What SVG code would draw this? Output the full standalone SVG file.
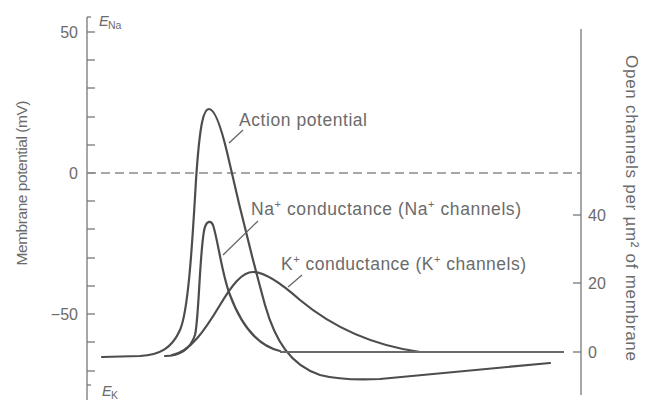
<svg xmlns="http://www.w3.org/2000/svg" width="645" height="400" viewBox="0 0 645 400">
  <style>
    .axis { stroke: #777; stroke-width: 1.3; fill: none; }
    .tick { stroke: #777; stroke-width: 1.3; }
    .zero { stroke: #8a8a8a; stroke-width: 1.4; stroke-dasharray: 9 5; fill: none; }
    .curve { stroke: #4d4d4d; stroke-width: 2.2; fill: none; stroke-linecap: round; stroke-linejoin: round; }
    .base { stroke: #6a6a6a; stroke-width: 2; fill: none; }
    .leader { stroke: #666; stroke-width: 1.3; }
    text { font-family: "Liberation Sans", Arial, sans-serif; fill: #6b6b6b; }
    .num { font-size: 16px; }
    .lbl { font-size: 17.5px; }
    .ax-left { font-size: 15.5px; }
    .ax-right { font-size: 17px; }
  </style>

  <!-- membrane potential axis (left) -->
  <g id="left-axis">
    <line class="axis" x1="87" y1="17" x2="87" y2="400"/>
    <line class="tick" x1="87" y1="17" x2="91" y2="17"/>
    <line class="tick" x1="87" y1="32" x2="95" y2="32"/>
    <line class="tick" x1="87" y1="60" x2="95" y2="60"/>
    <line class="tick" x1="87" y1="88" x2="95" y2="88"/>
    <line class="tick" x1="87" y1="117" x2="95" y2="117"/>
    <line class="tick" x1="87" y1="145" x2="95" y2="145"/>
    <line class="tick" x1="87" y1="173" x2="95" y2="173"/>
    <line class="tick" x1="87" y1="201" x2="95" y2="201"/>
    <line class="tick" x1="87" y1="229" x2="95" y2="229"/>
    <line class="tick" x1="87" y1="258" x2="95" y2="258"/>
    <line class="tick" x1="87" y1="286" x2="95" y2="286"/>
    <line class="tick" x1="87" y1="314" x2="95" y2="314"/>
    <line class="tick" x1="87" y1="342" x2="95" y2="342"/>
    <line class="tick" x1="87" y1="371" x2="95" y2="371"/>
    <line class="tick" x1="87" y1="385" x2="91" y2="385"/>
    <text class="num" x="78" y="38" text-anchor="end">50</text>
    <text class="num" x="78" y="179" text-anchor="end">0</text>
    <text class="num" x="78" y="320" text-anchor="end">−50</text>
    <text x="99" y="26" font-size="14.5" font-style="italic">E</text>
    <text x="108" y="29" font-size="10.5">Na</text>
    <text x="102" y="396" font-size="14.5" font-style="italic">E</text>
    <text x="111" y="399" font-size="10.5">K</text>
    <text class="ax-left" transform="translate(27,183) rotate(-90)" text-anchor="middle" textLength="165" lengthAdjust="spacing">Membrane potential (mV)</text>
  </g>

  <!-- open channel density axis (right) -->
  <g id="right-axis">
    <line class="axis" x1="581" y1="29" x2="581" y2="395"/>
    <line class="tick" x1="573" y1="215" x2="581" y2="215"/>
    <line class="tick" x1="573" y1="283" x2="581" y2="283"/>
    <line class="tick" x1="573" y1="352" x2="581" y2="352"/>
    <text class="num" x="588" y="221">40</text>
    <text class="num" x="588" y="289">20</text>
    <text class="num" x="588" y="358">0</text>
    <text class="ax-right" transform="translate(626,208) rotate(90)" text-anchor="middle" textLength="306" lengthAdjust="spacing">Open channels per µm² of membrane</text>
  </g>

  <!-- curves -->
  <g id="connectors">
    <line class="zero" x1="87" y1="173" x2="581" y2="173"/>
    <path id="action-potential" class="curve" d="M102,357 L140,356 C160,355 172,348 180,330 C188,312 192,250 196,180 C200,120 204,109 209,109 C215,109 221,127 227,152 C236,192 250,250 265,305 C275,340 290,365 320,375 C340,380 360,380 380,379 L550,363"/>
    <path id="na-conductance" class="curve" d="M165,356 C180,356 190,350 195,335 C199,320 200,240 205,227 C207,221 211,220 213,225 C218,240 222,275 230,295 C240,322 255,345 280,351"/>
    <path id="k-conductance" class="curve" d="M172,355 C190,352 205,330 220,305 C232,285 242,272 253,272 C265,272 280,282 300,300 C330,325 370,345 420,352"/>
    <line class="base" x1="280" y1="352" x2="564" y2="352"/>
    <line class="leader" x1="229" y1="143" x2="243" y2="130"/>
    <line class="leader" x1="223" y1="255" x2="258" y2="221"/>
    <line class="leader" x1="288" y1="287" x2="302" y2="275"/>
  </g>

  <g id="label-action-potential">
    <text class="lbl" x="239" y="126" textLength="128" lengthAdjust="spacing">Action potential</text>
  </g>
  <g id="label-na">
    <text class="lbl" x="251" y="215" textLength="270" lengthAdjust="spacing">Na<tspan dy="-7" font-size="11">+</tspan><tspan dy="7"> conductance (Na</tspan><tspan dy="-7" font-size="11">+</tspan><tspan dy="7"> channels)</tspan></text>
  </g>
  <g id="label-k">
    <text class="lbl" x="281" y="270" textLength="245" lengthAdjust="spacing">K<tspan dy="-7" font-size="11">+</tspan><tspan dy="7"> conductance (K</tspan><tspan dy="-7" font-size="11">+</tspan><tspan dy="7"> channels)</tspan></text>
  </g>
</svg>
